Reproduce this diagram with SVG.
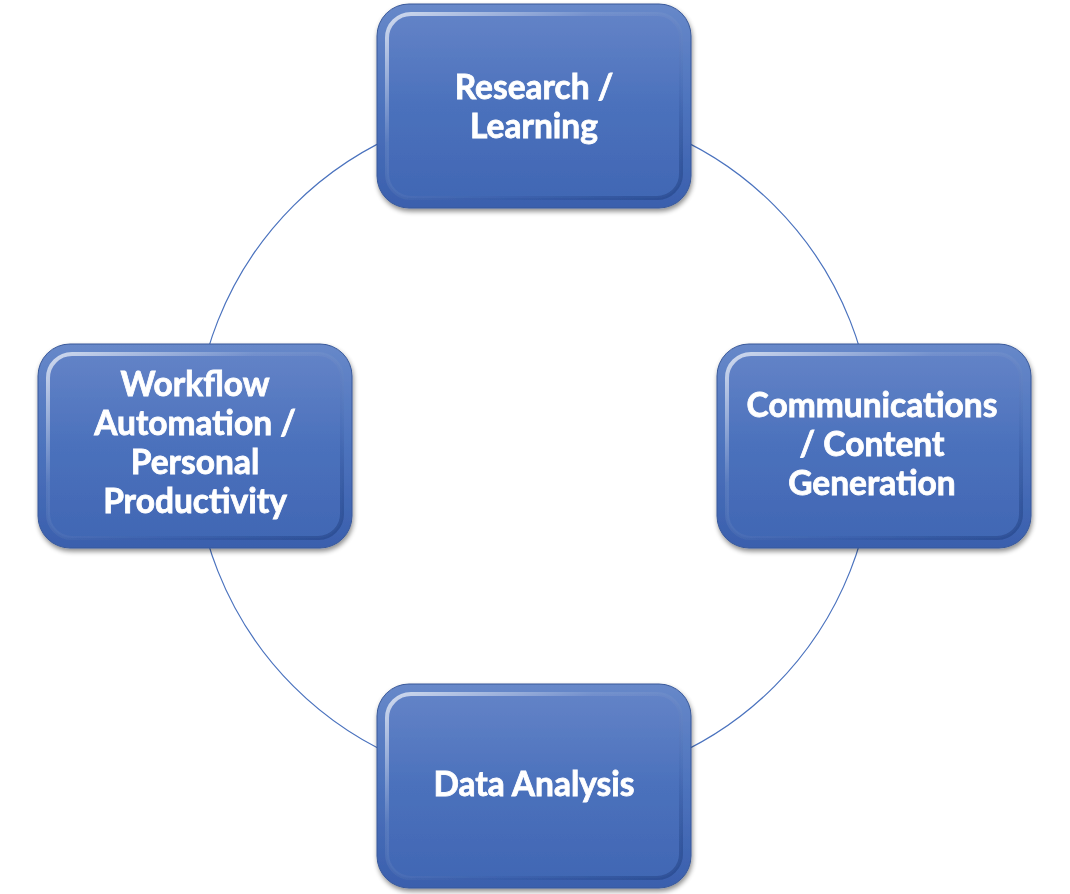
<svg xmlns="http://www.w3.org/2000/svg" width="1070" height="894" viewBox="0 0 1070 894">
  <defs>
    <linearGradient id="gOuter" x1="0" y1="0" x2="0" y2="1">
      <stop offset="0" stop-color="#6788c9"/>
      <stop offset="0.5" stop-color="#4d73bd"/>
      <stop offset="1" stop-color="#3a5fad"/>
    </linearGradient>
    <linearGradient id="gInner" x1="0" y1="0" x2="0" y2="1">
      <stop offset="0" stop-color="#6383c7"/>
      <stop offset="0.5" stop-color="#4b71bc"/>
      <stop offset="1" stop-color="#4167b4"/>
    </linearGradient>
    <linearGradient id="gBevel" x1="0" y1="0" x2="1" y2="1">
      <stop offset="0" stop-color="#ffffff" stop-opacity="0.7"/>
      <stop offset="0.35" stop-color="#ffffff" stop-opacity="0.1"/>
      <stop offset="0.7" stop-color="#1f3f80" stop-opacity="0.1"/>
      <stop offset="1" stop-color="#1f3f80" stop-opacity="0.55"/>
    </linearGradient>
    <filter id="shadow" x="-10%" y="-10%" width="120%" height="125%">
      <feGaussianBlur in="SourceAlpha" stdDeviation="2.5"/>
      <feOffset dx="1" dy="3" result="b"/>
      <feComponentTransfer><feFuncA type="linear" slope="0.45"/></feComponentTransfer>
      <feMerge><feMergeNode/><feMergeNode in="SourceGraphic"/></feMerge>
    </filter>
  </defs>
  <style>
    .outer { fill: url(#gOuter); stroke: #39599a; stroke-width: 1; }
    .inner { fill: url(#gInner); stroke: url(#gBevel); stroke-width: 4; }
    .lbl { font-family: Lato, "Liberation Sans", sans-serif; font-weight: bold; font-size: 33.5px; fill: #ffffff; stroke: #ffffff; stroke-width: 0.8; text-anchor: middle; }
    .conn { fill: none; stroke: #4a72be; stroke-width: 1.2; }
  </style>
  <rect width="1070" height="894" fill="#ffffff"/>
  <g id="connectors">
    <circle class="conn" cx="534" cy="446" r="340"/>
  </g>
  <g id="node-research" filter="url(#shadow)">
    <rect class="outer" x="377" y="4" width="314" height="204" rx="32"/>
    <rect class="inner" x="387" y="14" width="294" height="184" rx="24"/>
    <text class="lbl" x="534" y="99">Research /</text>
    <text class="lbl" x="534" y="138">Learning</text>
  </g>
  <g id="node-workflow" filter="url(#shadow)">
    <rect class="outer" x="38" y="344" width="314" height="204" rx="32"/>
    <rect class="inner" x="48" y="354" width="294" height="184" rx="24"/>
    <text class="lbl" x="195" y="396">Workflow</text>
    <text class="lbl" x="195" y="435">Automation /</text>
    <text class="lbl" x="195" y="474">Personal</text>
    <text class="lbl" x="195" y="513">Productivity</text>
  </g>
  <g id="node-communications" filter="url(#shadow)">
    <rect class="outer" x="717" y="344" width="314" height="204" rx="32"/>
    <rect class="inner" x="727" y="354" width="294" height="184" rx="24"/>
    <text class="lbl" x="872" y="417">Communications</text>
    <text class="lbl" x="872" y="456">/ Content</text>
    <text class="lbl" x="872" y="495">Generation</text>
  </g>
  <g id="node-data" filter="url(#shadow)">
    <rect class="outer" x="377" y="684" width="314" height="204" rx="32"/>
    <rect class="inner" x="387" y="694" width="294" height="184" rx="24"/>
    <text class="lbl" x="534" y="796">Data Analysis</text>
  </g>
</svg>
